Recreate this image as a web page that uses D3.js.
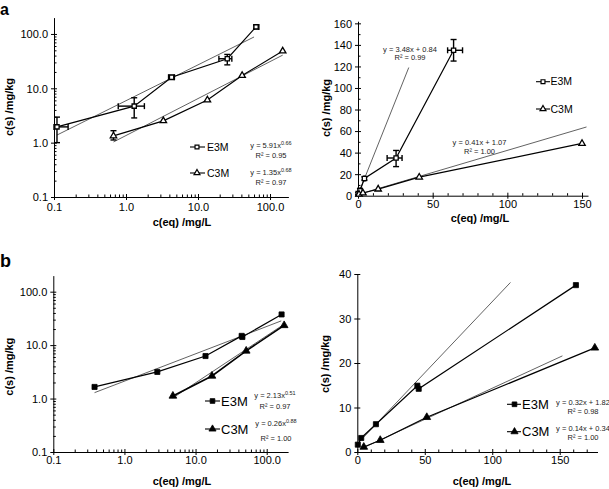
<!DOCTYPE html>
<html><head><meta charset="utf-8">
<script src="https://cdn.jsdelivr.net/npm/d3@7"></script>
<style>body{margin:0;background:#fff}svg{display:block;font-family:"Liberation Sans",Arial,Helvetica,sans-serif}</style>
</head><body><svg id="c" width="609" height="489"></svg>
<script>
// ---------- DATA ----------
// Panel a (open markers, with error bars on E3M)
const aE3M_x   = [0.11, 1.3, 4.3, 25.5, 64];
const aE3M_y   = [1.95, 4.7, 16, 35, 135];
const aE3M_xLo = [0.1, 0.78, 3.9, 19.5, 60];
const aE3M_xHi = [0.157, 1.8, 4.7, 29.5, 70];
const aE3M_yLo = [1.0, 2.85, 14.5, 27, 125];
const aE3M_yHi = [2.95, 6.7, 17.5, 42, 145];
const aC3M_x   = [0.67, 3.3, 13.5, 41, 150];
const aC3M_y   = [1.33, 2.52, 6.1, 17.2, 48.5];
const aC3M_yLo = [1.12, 2.52, 6.1, 17.2, 48.5];
const aC3M_yHi = [1.66, 2.52, 6.1, 17.2, 48.5];
// Panel b (filled markers)
const bE3M_x = [0.38, 2.9, 13.8, 44.5, 45.5, 162];
const bE3M_y = [1.65, 3.15, 6.25, 14.9, 14.2, 37.5];
const bC3M_x = [4.8, 17, 51.5, 176];
const bC3M_y = [1.12, 2.65, 7.8, 23.4];
// Regression line end points (from printed equations)
const aLogE3M_fitX = [0.11, 60],  aLogE3M_fitY = [1.38, 88];
const aLogC3M_fitX = [0.67, 150], aLogC3M_fitY = [1.03, 40.8];
const aLinE3M_fitX = [0, 34],     aLinE3M_fitY = [0.84, 119];
const aLinC3M_fitX = [0, 153],    aLinC3M_fitY = [1.07, 63.8];
const bLogE3M_fitX = [0.38, 160], bLogE3M_fitY = [1.29, 28.4];
const bLogC3M_fitX = [4.8, 175],  bLogC3M_fitY = [1.03, 24.5];
const bLinE3M_fitX = [0, 113.5],  bLinE3M_fitY = [1.82, 38.1];
const bLinC3M_fitX = [5, 152],    bLinC3M_fitY = [1.04, 21.6];
// Tick labels
const logTicks = [0.1, 1, 10, 100];
const logTickLabels = ["0.1", "1.0", "10.0", "100.0"];
const linTicksX = [0, 50, 100, 150];
const aLinTicksY = [0, 20, 40, 60, 80, 100, 120, 140, 160];
const bLinTicksY = [0, 10, 20, 30, 40];
// Equations
const aLogEq = [["y = 5.91x", "0.66", "R² = 0.95"], ["y = 1.35x", "0.68", "R² = 0.97"]];
const aLinEq = [["y = 3.48x + 0.84", "", "R² = 0.99"], ["y = 0.41x + 1.07", "", "R² = 1.00"]];
const bLogEq = [["y = 2.13x", "0.51", "R² = 0.97"], ["y = 0.26x", "0.88", "R² = 1.00"]];
const bLinEq = [["y = 0.32x + 1.82", "", "R² = 0.98"], ["y = 0.14x + 0.34", "", "R² = 1.00"]];
const seriesNames = ["E3M", "C3M"];

// ---------- DRAW ----------
const svg = d3.select("#c");
const zip = (xs, ys) => xs.map((x, i) => [x, ys[i]]);

function logMinor(lo, hi) {
  const out = [];
  for (let e = -1; e <= 3; e++) for (let m = 2; m <= 9; m++) {
    const v = m * Math.pow(10, e);
    if (v > lo && v < hi) out.push(v);
  }
  return out;
}

function panel(c) {
  const x = c.xLog ? d3.scaleLog().domain(c.xDom).range(c.xRng) : d3.scaleLinear().domain(c.xDom).range(c.xRng);
  const y = c.yLog ? d3.scaleLog().domain(c.yDom).range(c.yRng) : d3.scaleLinear().domain(c.yDom).range(c.yRng);
  const g = svg.append("g");
  const x0 = c.yRng[0], y0 = c.xRng[0];

  const gxm = g.append("g").attr("transform", `translate(0,${x0})`)
    .call(d3.axisBottom(x).tickValues(c.xMinor).tickFormat("").tickSize(-2.5).tickSizeOuter(0));
  gxm.select(".domain").remove();
  const gym = g.append("g").attr("transform", `translate(${y0},0)`)
    .call(d3.axisLeft(y).tickValues(c.yMinor).tickFormat("").tickSize(-2.5).tickSizeOuter(0));
  gym.select(".domain").remove();

  const gx = g.append("g").attr("transform", `translate(0,${x0})`)
    .call(d3.axisBottom(x).tickValues(c.xTicks).tickFormat((d, i) => c.xLabels[i]).tickSize(3).tickSizeOuter(0));
  gx.selectAll(".tick line").attr("y1", -3).attr("y2", 3);
  gx.selectAll(".tick text").attr("y", c.xLabOff).attr("dy", 0).style("font-size", "11px").attr("fill", "#000");
  const gy = g.append("g").attr("transform", `translate(${y0},0)`)
    .call(d3.axisLeft(y).tickValues(c.yTicks).tickFormat((d, i) => c.yLabels[i]).tickSize(3).tickSizeOuter(0));
  gy.selectAll(".tick line").attr("x1", -3).attr("x2", 3);
  gy.selectAll(".tick text").attr("x", -6).attr("dy", "0.35em").style("font-size", "11px").attr("fill", "#000");
  g.selectAll(".domain").attr("stroke", "#000").attr("stroke-width", 1);
  g.selectAll(".tick line").attr("stroke", "#000").attr("stroke-width", 1);
  g.selectAll(".tick text").style("font-family", '"Liberation Sans", Arial, sans-serif');

  g.append("text").attr("x", c.xTitle[0]).attr("y", c.xTitle[1]).attr("text-anchor", "middle")
    .style("font-size", "11px").style("font-weight", "bold").text("c(eq) /mg/L");
  g.append("text").attr("transform", `translate(${c.yTitle[0]},${c.yTitle[1]}) rotate(-90)`).attr("text-anchor", "middle")
    .style("font-size", "11px").style("font-weight", "bold").text("c(s) /mg/kg");

  const line = d3.line().x(d => x(d[0])).y(d => y(d[1]));
  c.fits.forEach(f => {
    g.append("path").attr("d", line(zip(f[0], f[1]))).attr("fill", "none")
      .attr("stroke", "#3a3a3a").attr("stroke-width", 0.8);
  });
  c.series.forEach(s => {
    g.append("path").attr("d", line(zip(s.x, s.y))).attr("fill", "none")
      .attr("stroke", "#000").attr("stroke-width", s.lw || 1.2);
  });
  c.series.forEach(s => {
    if (!s.yLo) return;
    s.x.forEach((xv, i) => {
      const cx = x(xv), cy = y(s.y[i]);
      if (s.yHi[i] > s.yLo[i]) {
        const a = y(s.yHi[i]), b = y(s.yLo[i]);
        g.append("line").attr("x1", cx).attr("x2", cx).attr("y1", a).attr("y2", b).attr("stroke", "#000").attr("stroke-width", 1.4);
        [a, b].forEach(v => g.append("line").attr("x1", cx - 3).attr("x2", cx + 3).attr("y1", v).attr("y2", v).attr("stroke", "#000").attr("stroke-width", 1.4));
      }
      if (s.xLo && s.xHi[i] > s.xLo[i]) {
        const a = x(s.xLo[i]), b = x(s.xHi[i]);
        g.append("line").attr("x1", a).attr("x2", b).attr("y1", cy).attr("y2", cy).attr("stroke", "#000").attr("stroke-width", 1.4);
        [a, b].forEach(v => g.append("line").attr("x1", v).attr("x2", v).attr("y1", cy - 3).attr("y2", cy + 3).attr("stroke", "#000").attr("stroke-width", 1.4));
      }
    });
  });
  const sym = (t, sz) => d3.symbol().type(t === "sq" ? d3.symbolSquare : d3.symbolTriangle).size(sz)();
  c.series.forEach(s => {
    s.x.forEach((xv, i) => {
      g.append("path").attr("d", sym(s.shape, s.size))
        .attr("transform", `translate(${x(xv)},${y(s.y[i])})`)
        .attr("fill", s.filled ? "#000" : "#fff").attr("stroke", "#000").attr("stroke-width", s.filled ? 0.8 : 1.3);
    });
  });
  c.series.forEach((s, k) => {
    const L = c.legend[k];
    g.append("line").attr("x1", L.x1).attr("x2", L.x2).attr("y1", L.y).attr("y2", L.y).attr("stroke", "#000").attr("stroke-width", 1.1);
    g.append("path").attr("d", sym(s.shape, s.size * 0.85)).attr("transform", `translate(${L.mx},${L.y})`)
      .attr("fill", s.filled ? "#000" : "#fff").attr("stroke", "#000").attr("stroke-width", s.filled ? 0.8 : 1.2);
    g.append("text").attr("x", L.tx).attr("y", L.y).attr("dy", "0.36em").style("font-size", c.legFs + "px").text(seriesNames[k]);
    const E = c.eq[k], eqs = c.eqText[k];
    const t = g.append("text").attr("x", E.x).attr("y", E.y1).attr("text-anchor", "middle").style("font-size", "7.5px").attr("fill", "#222");
    t.append("tspan").text(eqs[0]);
    if (eqs[1]) t.append("tspan").attr("dy", -3).style("font-size", "5.5px").text(eqs[1]);
    g.append("text").attr("x", E.x).attr("y", E.y2).attr("text-anchor", "middle").style("font-size", "7.5px").attr("fill", "#222").text(eqs[2]);
  });
}

svg.append("text").attr("x", 0).attr("y", 15).style("font-size", "16px").style("font-weight", "bold").text("a");
svg.append("text").attr("x", 0).attr("y", 267).style("font-size", "18px").style("font-weight", "bold").text("b");

// a - log
panel({
  xLog: true, yLog: true, xDom: [0.1, 180], xRng: [54, 288.4], yDom: [0.1, 200], yRng: [197, 17.6],
  xTicks: logTicks, xLabels: logTickLabels, yTicks: logTicks, yLabels: logTickLabels,
  xMinor: logMinor(0.1, 180), yMinor: logMinor(0.1, 200), xLabOff: 14,
  xTitle: [182, 226], yTitle: [13, 107],
  fits: [[aLogE3M_fitX, aLogE3M_fitY], [aLogC3M_fitX, aLogC3M_fitY]],
  series: [
    {x: aE3M_x, y: aE3M_y, xLo: aE3M_xLo, xHi: aE3M_xHi, yLo: aE3M_yLo, yHi: aE3M_yHi, shape: "sq", size: 18},
    {x: aC3M_x, y: aC3M_y, yLo: aC3M_yLo, yHi: aC3M_yHi, shape: "tri", size: 18}
  ],
  legend: [{x1: 190, x2: 205, mx: 197, tx: 207, y: 147}, {x1: 190, x2: 205, mx: 197, tx: 207, y: 173}],
  legFs: 10.5,
  eq: [{x: 271, y1: 148, y2: 158}, {x: 271, y1: 175, y2: 185}], eqText: aLogEq
});
// a - linear
panel({
  xLog: false, yLog: false, xDom: [0, 154], xRng: [358, 588], yDom: [0, 162], yRng: [195.7, 21.2],
  xTicks: linTicksX, xLabels: linTicksX.map(String), yTicks: aLinTicksY, yLabels: aLinTicksY.map(String),
  xMinor: d3.range(10, 151, 10).filter(v => v % 50), yMinor: d3.range(10, 161, 20), xLabOff: 12,
  xTitle: [480, 222], yTitle: [330, 108],
  fits: [[aLinE3M_fitX, aLinE3M_fitY], [aLinC3M_fitX, aLinC3M_fitY]],
  series: [
    {x: aE3M_x, y: aE3M_y, xLo: aE3M_xLo, xHi: aE3M_xHi, yLo: aE3M_yLo, yHi: aE3M_yHi, shape: "sq", size: 18},
    {x: aC3M_x, y: aC3M_y, yLo: aC3M_yLo, yHi: aC3M_yHi, shape: "tri", size: 18}
  ],
  legend: [{x1: 536, x2: 550, mx: 543, tx: 550.5, y: 81.7}, {x1: 536, x2: 550, mx: 543, tx: 550.5, y: 109}],
  legFs: 10.5,
  eq: [{x: 410, y1: 52, y2: 59.5}, {x: 479.5, y1: 145, y2: 153.5}], eqText: aLinEq
});
// b - log
panel({
  xLog: true, yLog: true, xDom: [0.1, 200], xRng: [53.3, 288.1], yDom: [0.1, 200], yRng: [452, 275.6],
  xTicks: logTicks, xLabels: logTickLabels, yTicks: logTicks, yLabels: logTickLabels,
  xMinor: logMinor(0.1, 200), yMinor: logMinor(0.1, 200), xLabOff: 12,
  xTitle: [182, 485], yTitle: [12.5, 366.7],
  fits: [[bLogE3M_fitX, bLogE3M_fitY], [bLogC3M_fitX, bLogC3M_fitY]],
  series: [
    {x: bE3M_x, y: bE3M_y, shape: "sq", size: 26, filled: true},
    {x: bC3M_x, y: bC3M_y, shape: "tri", size: 26, filled: true, lw: 1.6}
  ],
  legend: [{x1: 205, x2: 220, mx: 212.5, tx: 221, y: 401}, {x1: 205, x2: 220, mx: 212.5, tx: 221, y: 429}],
  legFs: 13,
  eq: [{x: 275, y1: 398, y2: 409}, {x: 276, y1: 426, y2: 441}], eqText: bLogEq
});
// b - linear
panel({
  xLog: false, yLog: false, xDom: [0, 178], xRng: [357.3, 597.5], yDom: [0, 40], yRng: [452, 274],
  xTicks: linTicksX, xLabels: linTicksX.map(String), yTicks: bLinTicksY, yLabels: bLinTicksY.map(String),
  xMinor: d3.range(10, 171, 10).filter(v => v % 50), yMinor: [], xLabOff: 12,
  xTitle: [482, 485], yTitle: [329, 364],
  fits: [[bLinE3M_fitX, bLinE3M_fitY], [bLinC3M_fitX, bLinC3M_fitY]],
  series: [
    {x: bE3M_x, y: bE3M_y, shape: "sq", size: 26, filled: true},
    {x: bC3M_x, y: bC3M_y, shape: "tri", size: 26, filled: true}
  ],
  legend: [{x1: 507, x2: 521, mx: 514.5, tx: 522, y: 404.3}, {x1: 507, x2: 521, mx: 514.5, tx: 522, y: 431.7}],
  legFs: 13,
  eq: [{x: 583, y1: 405, y2: 413.5}, {x: 583, y1: 431, y2: 439.5}], eqText: bLinEq
});
</script></body></html>
